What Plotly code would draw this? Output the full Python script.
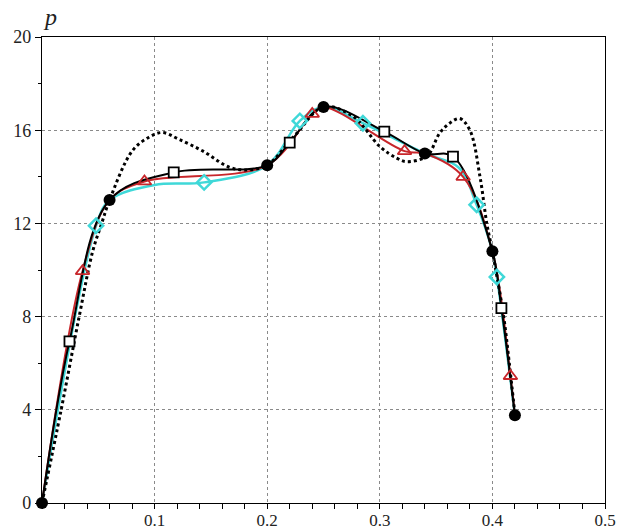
import plotly.graph_objects as go

# Node points (filled circles)
node_x = [0.0, 0.06, 0.2, 0.25, 0.34, 0.4, 0.42]
node_p = [0.0, 13.0, 14.5, 17.0, 15.0, 10.8, 3.77]

# Intermediate points of the solid black curve (open squares)
sq_x = [0.0244, 0.117, 0.22, 0.304, 0.365, 0.408]
sq_p = [6.94, 14.19, 15.47, 15.94, 14.87, 8.36]

# Red curve points (open triangles)
tri_x = [0.036, 0.091, 0.24, 0.322, 0.374, 0.416]
tri_p = [9.95, 13.8, 16.7, 15.1, 14.0, 5.45]

# Cyan curve points (open diamonds)
dia_x = [0.048, 0.144, 0.229, 0.285, 0.386, 0.404]
dia_p = [11.9, 13.76, 16.4, 16.3, 12.8, 9.7]

# Extra vertices along the cyan curve between its markers
cyan_extra_x = [0.1, 0.37]
cyan_extra_p = [13.65, 14.4]

# Dotted interpolating curve
dot_x = [0.0, 0.017, 0.033, 0.045, 0.053, 0.06, 0.08, 0.095, 0.107, 0.122,
         0.143, 0.167, 0.184, 0.2, 0.225, 0.25, 0.276, 0.3, 0.315, 0.324, 0.342,
         0.353, 0.362, 0.371, 0.38, 0.389, 0.395, 0.4, 0.41, 0.415, 0.42]
dot_p = [0.0, 4.0, 8.0, 10.8, 12.0, 13.0, 15.1, 15.7, 15.9, 15.6,
         15.1, 14.4, 14.3, 14.5, 15.8, 17.0, 16.6, 15.3, 14.8, 14.65, 14.9,
         15.86, 16.3, 16.5, 16.0, 14.0, 12.0, 10.8, 8.0, 6.0, 3.8]

x_ticks = [0.1, 0.2, 0.3, 0.4, 0.5]
y_ticks = [0, 4, 8, 12, 16, 20]

RED = "#c8262b"
CYAN = "#3fd8d8"


def merged(*pairs):
    xs, ys = [], []
    for xa, ya in pairs:
        xs += xa
        ys += ya
    pts = sorted(zip(xs, ys))
    return [p[0] for p in pts], [p[1] for p in pts]


fig = go.Figure()

cx, cy = merged((node_x, node_p), (dia_x, dia_p), (cyan_extra_x, cyan_extra_p))
fig.add_trace(go.Scatter(x=cx, y=cy, mode="lines", line=dict(color=CYAN, width=2.5, shape="spline"),
                         hoverinfo="skip"))
rx, ry = merged((node_x, node_p), (tri_x, tri_p))
fig.add_trace(go.Scatter(x=rx, y=ry, mode="lines", line=dict(color=RED, width=2, shape="spline"),
                         hoverinfo="skip"))
bx, by = merged((node_x, node_p), (sq_x, sq_p))
fig.add_trace(go.Scatter(x=bx, y=by, mode="lines", line=dict(color="black", width=2, shape="spline"),
                         hoverinfo="skip"))
fig.add_trace(go.Scatter(x=dot_x, y=dot_p, mode="lines",
                         line=dict(color="black", width=3, dash="dot", shape="spline"),
                         hoverinfo="skip"))

fig.add_trace(go.Scatter(x=dia_x, y=dia_p, mode="markers",
                         marker=dict(symbol="diamond-open", size=11, color=CYAN, line=dict(width=2.5))))
fig.add_trace(go.Scatter(x=tri_x, y=tri_p, mode="markers",
                         marker=dict(symbol="triangle-up-open", size=12, color=RED, line=dict(width=1.8))))
fig.add_trace(go.Scatter(x=sq_x, y=sq_p, mode="markers",
                         marker=dict(symbol="square", size=10, color="white",
                                     line=dict(color="black", width=1.8))))
fig.add_trace(go.Scatter(x=node_x, y=node_p, mode="markers",
                         marker=dict(symbol="circle", size=12, color="black"),
                         cliponaxis=False))

font_family = "Liberation Serif, serif"
tick_font = dict(family=font_family, size=18, color="#222")

fig.update_layout(
    width=621, height=531,
    margin=dict(l=42, r=16, t=37, b=28),
    paper_bgcolor="white", plot_bgcolor="white",
    showlegend=False,
    font=dict(family=font_family, size=18, color="#222"),
    xaxis=dict(
        range=[0, 0.5], tickvals=x_ticks, ticktext=[f"{v:.1f}" for v in x_ticks],
        showline=True, linecolor="black", linewidth=1.3, mirror=True,
        ticks="outside", ticklen=5, tickcolor="black", tickwidth=1,
        ticklabelstandoff=-4, automargin=False,
        tickfont=dict(family=font_family, size=17, color="#222"),
        minor=dict(dtick=0.02, ticks="outside", ticklen=5, tickcolor="black", showgrid=False),
        showgrid=True, gridcolor="#8a8a8a", griddash="dot", gridwidth=1,
        zeroline=False,
    ),
    yaxis=dict(
        range=[0, 20], tickvals=y_ticks, automargin=False,
        showline=True, linecolor="black", linewidth=1.3, mirror=True,
        ticks="outside", ticklen=6, tickcolor="black", tickwidth=1,
        tickfont=tick_font,
        minor=dict(dtick=2, ticks="outside", ticklen=3, tickcolor="black", showgrid=False),
        showgrid=True, gridcolor="#8a8a8a", griddash="dot", gridwidth=1,
        zeroline=False,
    ),
    annotations=[dict(
        text="<i>p</i>", xref="paper", yref="paper", x=0, y=1,
        xanchor="left", yanchor="bottom", xshift=-1, yshift=5, showarrow=False,
        font=dict(family=font_family, size=24, color="#222"),
    )],
)

fig.write_html("out.html")
